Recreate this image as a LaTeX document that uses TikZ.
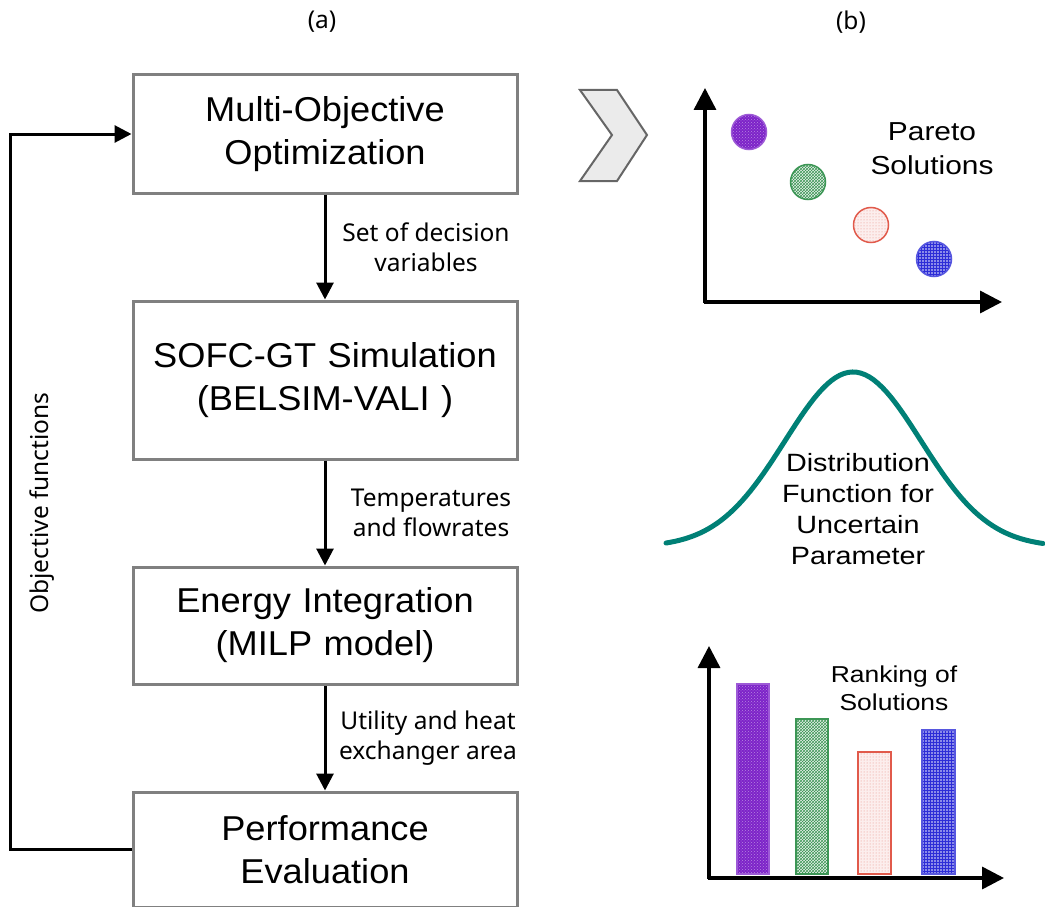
\documentclass[tikz,border=0pt]{standalone}
\usepackage{fontspec}
\setmainfont{Liberation Sans}
\newfontfamily\lblfont{Noto Sans}
\newfontfamily\boxfont[FakeStretch=1.05]{Liberation Sans}
\newfontfamily\tagfont[FakeStretch=1.15]{Liberation Sans}
\usetikzlibrary{positioning, arrows.meta, patterns}
\definecolor{pvio}{RGB}{125,35,200}
\definecolor{pgrn}{RGB}{60,150,85}
\definecolor{pred}{RGB}{225,90,75}
\definecolor{pblu}{RGB}{45,45,215}
\definecolor{bell}{RGB}{0,128,118}

\begin{document}
\begin{tikzpicture}[x=1pt, y=-1pt,
    stage/.style={draw=black!50, line width=3pt, minimum width=384pt,
      text width=375pt, align=center, inner sep=0pt,
      font=\boxfont\fontsize{34.5}{43}\selectfont},
    note/.style={font=\lblfont\fontsize{24.5}{30}\selectfont, align=center},
    tag/.style={font=\tagfont\fontsize{25}{31}\selectfont, align=center},
    flow/.style={-{Triangle[length=17pt, width=17pt]}, line width=3pt},
    axis/.style={-{Triangle[length=22pt, width=22pt]}, line width=3.5pt},
    node distance=105pt,
  ]
    \useasboundingbox (0,0) rectangle (1045,907);

    % (a) solution procedure
    \node[note] (capa) at (322,22) {(a)};
    \node[stage, minimum height=118pt] (moo) at (325,134) {Multi-Objective\\Optimization};
    \node[stage, minimum height=158pt, below=of moo] (sim) {SOFC-GT Simulation\\(BELSIM-VALI )};
    \node[stage, minimum height=117pt, below=of sim] (ei) {Energy Integration\\(MILP model)};
    \node[stage, minimum height=115pt, below=of ei] (perf) {Performance\\Evaluation};

    \draw[flow] (moo) -- node[note, xshift=101pt] {Set of decision\\variables} (sim);
    \draw[flow] (sim) -- node[note, xshift=106pt] {Temperatures\\and flowrates} (ei);
    \draw[flow] (ei) -- node[note, xshift=103pt] {Utility and heat\\exchanger area} (perf);

    \coordinate (back) at (10,842);
    \draw[flow] (perf.west) -- (perf.west -| back) |- (moo.west);
    \node[note, rotate=90] (obj) at (42,503) {Objective functions};

    \draw[draw=black!60, fill=black!8, line width=2pt, line join=miter]
      (580,90) -- (617,90) -- (647,135) -- (617,181) -- (580,181) -- (612,135) -- cycle;

    % (b) post-processing
    \node[note] (capb) at (851,22) {(b)};

    % pareto front
    \filldraw[line width=1.5pt, draw=pvio!75!white, preaction={fill=pvio},
      pattern=crosshatch dots, pattern color=pvio!55!white] (749,132) circle (17.5);
    \filldraw[line width=1.5pt, draw=pgrn, preaction={fill=pgrn!12},
      pattern=crosshatch, pattern color=pgrn] (808,182) circle (17.5);
    \filldraw[line width=1.5pt, draw=pred, preaction={fill=pred!10},
      pattern=dots, pattern color=pred!70] (871,225) circle (17.5);
    \filldraw[line width=1.5pt, draw=pblu!80!white, preaction={fill=pblu!55!white},
      pattern=grid, pattern color=pblu] (934,259) circle (17.5);
    \draw[axis] (705,303) -- (705,88);
    \draw[axis] (704,302) -- (1002,302);
    \node[tag, font=\tagfont\fontsize{26}{34}\selectfont] (pareto) at (932,149) {Pareto\\Solutions};

    % uncertainty
    \draw[bell, line width=5pt, line cap=round]
      plot[domain=666:1043, samples=90] (\x, {547-175*exp(-((\x-853)/68)^2/2)});
    \node[tag] (dist) at (858,509) {Distribution\\Function for\\Uncertain\\Parameter};

    % ranking
    \filldraw[line width=1.5pt, draw=pvio!75!white, preaction={fill=pvio},
      pattern=crosshatch dots, pattern color=pvio!55!white] (737,874) rectangle (769,684);
    \filldraw[line width=1.5pt, draw=pgrn, preaction={fill=pgrn!12},
      pattern=crosshatch, pattern color=pgrn] (796,874) rectangle (828,719);
    \filldraw[line width=1.5pt, draw=pred, preaction={fill=pred!10},
      pattern=dots, pattern color=pred!70] (858,874) rectangle (891,752);
    \filldraw[line width=1.5pt, draw=pblu!80!white, preaction={fill=pblu!55!white},
      pattern=grid, pattern color=pblu] (922,874) rectangle (955,730);
    \draw[axis] (709,879) -- (709,646);
    \draw[axis] (708,878) -- (1004,878);
    \node[tag, font=\tagfont\fontsize{23}{28}\selectfont] (rank) at (894,688) {Ranking of\\Solutions};
  \end{tikzpicture}
\end{document}
